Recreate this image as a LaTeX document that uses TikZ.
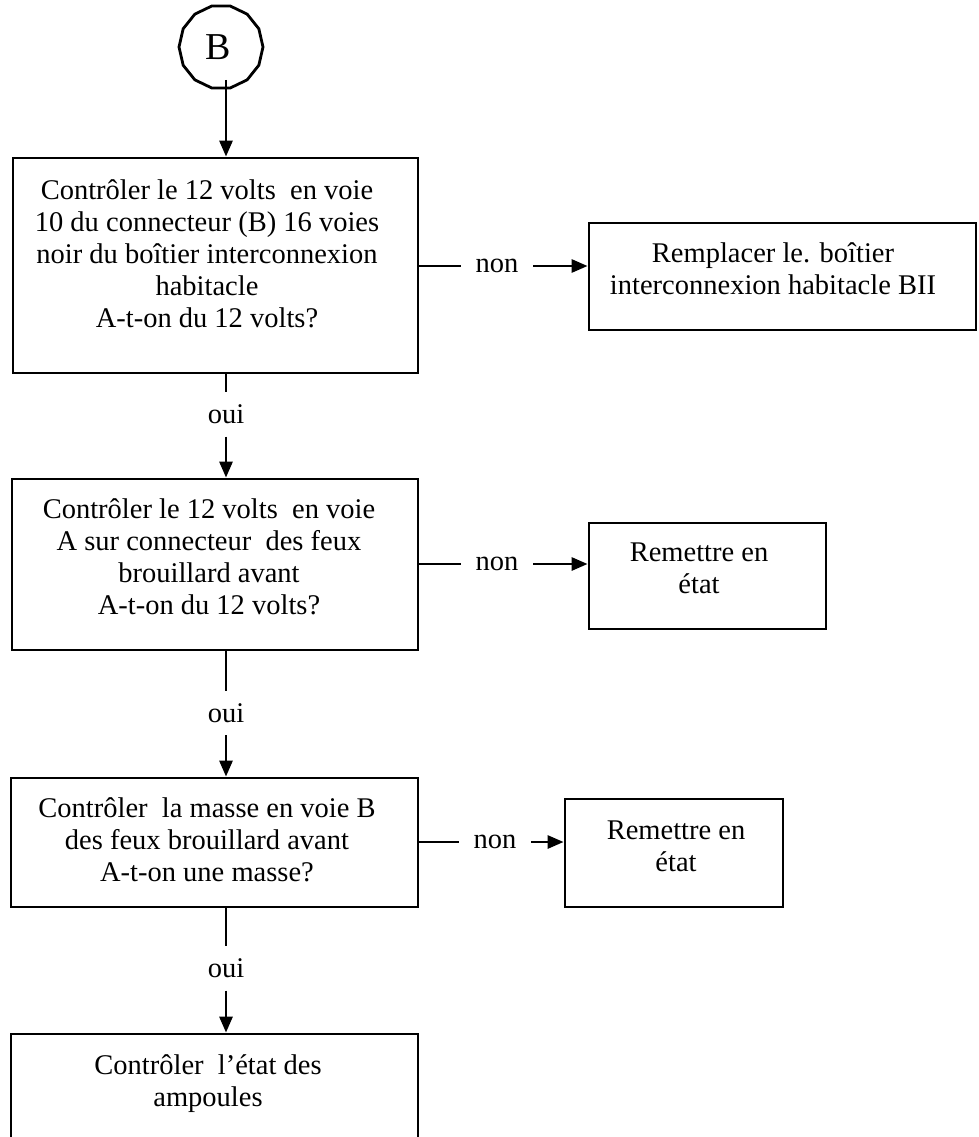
\documentclass[tikz,border=0pt]{standalone}
\usepackage{fontspec}
\setmainfont{Liberation Serif}
\usetikzlibrary{arrows.meta,shapes.geometric}
\begin{document}
\begin{tikzpicture}[x=1pt,y=-1pt,
  box/.style={draw,line width=2.8pt,rectangle,inner sep=0pt},
  txt/.style={align=center,font=\fontsize{28.5}{32}\selectfont,inner sep=0pt},
  lbl/.style={font=\fontsize{28.5}{32}\selectfont,inner sep=0pt,minimum width=72pt,minimum height=44pt},
  link/.style={line width=2.8pt},
  arr/.style={line width=2.8pt,-{Triangle[length=16pt,width=13pt]}}]
\useasboundingbox (0,0) rectangle (978,1137);
\fill[white] (0,0) rectangle (978,1137);
\clip (0,0) rectangle (978,1137);

% connector circle
\node[draw,line width=2.8pt,regular polygon,regular polygon sides=14,minimum size=84pt,inner sep=0pt] (c) at (221,47) {};
\node[font=\fontsize{38}{40}\selectfont,inner sep=0pt] (cB) at (c.center) [xshift=-3pt] {B};
\coordinate (c1) at (226,80);

% boxes
\node[box,minimum width=405pt,minimum height=215pt] (b1) at (215.5,265.5) {};
\node[box,minimum width=387pt,minimum height=107pt] (r1) at (782.5,276.5) {};
\node[box,minimum width=406pt,minimum height=171pt] (b2) at (215,564.5) {};
\node[box,minimum width=237pt,minimum height=106pt] (r2) at (707.5,576) {};
\node[box,minimum width=407pt,minimum height=129pt] (b3) at (214.5,842.5) {};
\node[box,minimum width=218pt,minimum height=108pt] (r3) at (674,853) {};
\node[box,minimum width=407pt,minimum height=140pt] (b4) at (214.5,1104) {};

% texts
\node[txt] (t1) at (207,254) {Contrôler le 12 volts~ en voie\\10 du connecteur (B) 16 voies\\noir du boîtier interconnexion\\habitacle\\A-t-on du 12 volts?};
\node[txt] (tr1) at (773,269) {Remplacer le. boîtier\\interconnexion habitacle BII};
\node[txt] (t2) at (209,557) {Contrôler le 12 volts~ en voie\\A sur connecteur~ des feux\\brouillard avant\\A-t-on du 12 volts?};
\node[txt] (tr2) at (699,568.5) {Remettre en\\état};
\node[txt] (t3) at (207,840) {Contrôler~ la masse en voie B\\des feux brouillard avant\\A-t-on une masse?};
\node[txt] (tr3) at (676,846) {Remettre en\\état};
\node[txt] (t4) at (208,1084) {Contrôler~ l’état des\\ampoules};

% labels
\node[lbl] (n1) at (497,266) {non};
\node[lbl] (n2) at (497,564) {non};
\node[lbl] (n3) at (495,842) {non};
\node[lbl] (o1) at (226,414.5) {oui};
\node[lbl] (o2) at (226,713) {oui};
\node[lbl] (o3) at (226,968.5) {oui};

% connectors
\draw[arr] (c1) -- (b1.north -| c1);

\draw[link] (b1.east |- n1) -- (n1.west);
\draw[arr] (n1.east) -- (r1.west |- n1);
\draw[link] (b2.east |- n2) -- (n2.west);
\draw[arr] (n2.east) -- (r2.west |- n2);
\draw[link] (b3.east |- n3) -- (n3.west);
\draw[arr] (n3.east) -- (r3.west |- n3);

\draw[link] (b1.south -| o1) -- (o1.north);
\draw[arr] (o1.south) -- (b2.north -| o1);
\draw[link] (b2.south -| o2) -- (o2.north);
\draw[arr] (o2.south) -- (b3.north -| o2);
\draw[link] (b3.south -| o3) -- (o3.north);
\draw[arr] (o3.south) -- (b4.north -| o3);
\end{tikzpicture}
\end{document}
